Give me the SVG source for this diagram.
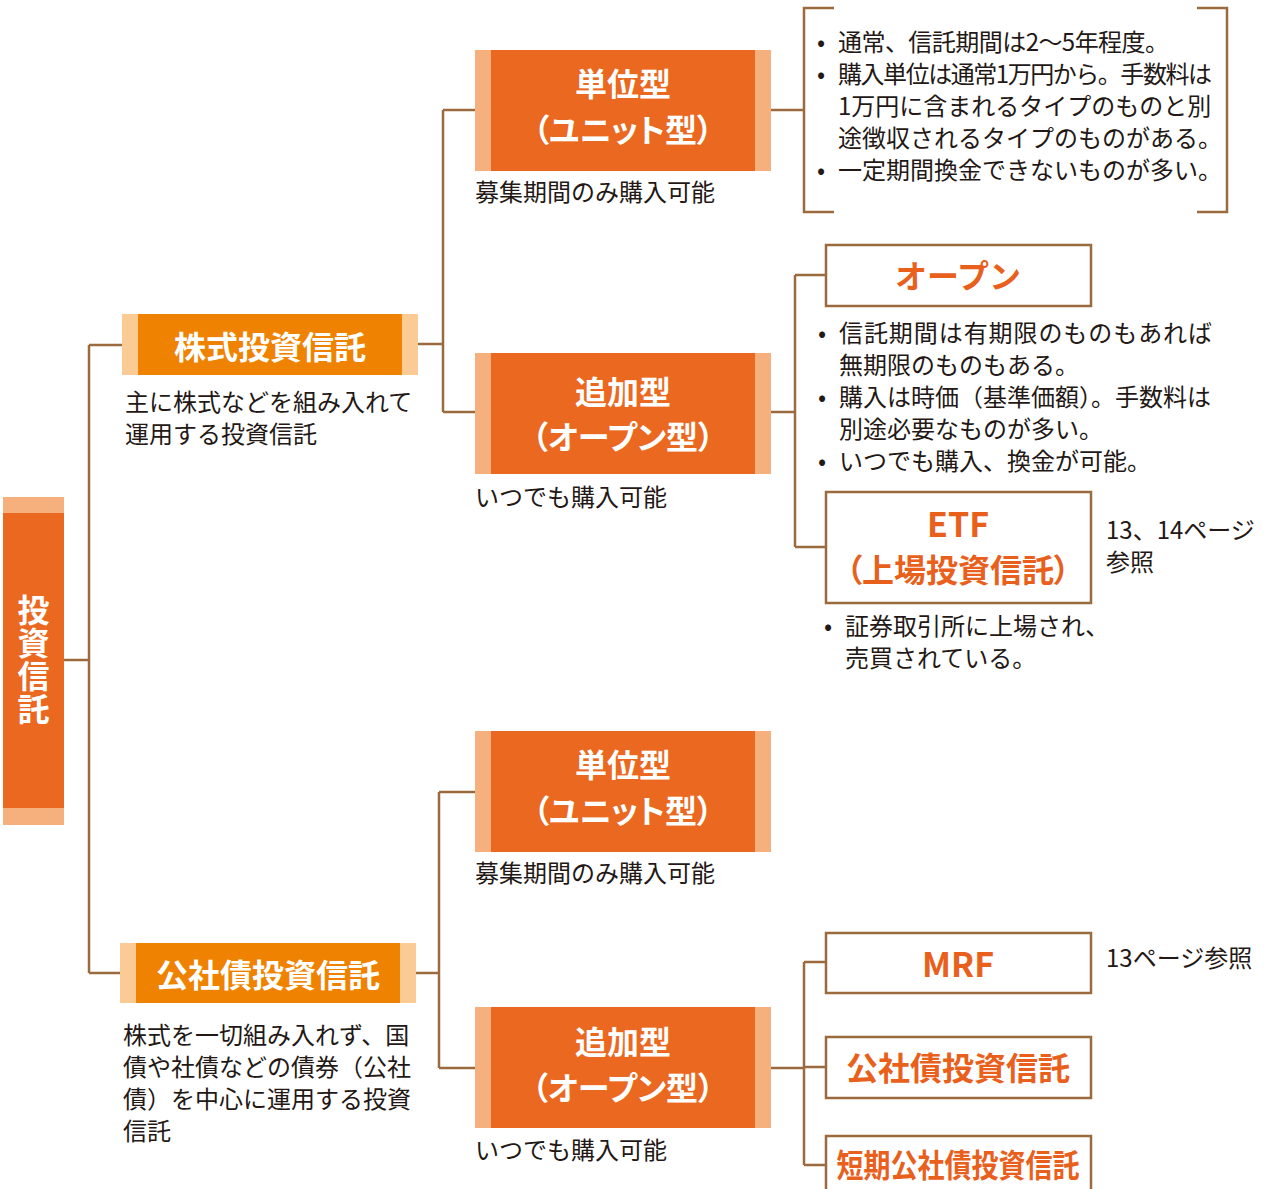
<svg xmlns="http://www.w3.org/2000/svg" width="1266" height="1189" viewBox="0 0 1266 1189">
<style>
.conn{stroke:#9B6B3F;stroke-width:2.5;fill:none}
.t{font-family:"Noto Sans CJK JP","Noto Sans",sans-serif;font-size:24px;fill:#231815}
.hw{font-family:"Noto Sans CJK JP","Noto Sans",sans-serif;font-size:32px;font-weight:bold;fill:#ffffff;text-anchor:middle}
.ho{font-family:"Noto Sans CJK JP","Noto Sans",sans-serif;font-size:32px;font-weight:bold;fill:#E8601C;text-anchor:middle}
.pal{font-feature-settings:"palt"}
.rb{fill:#F5B07D}
.rm{fill:#EA6820}
.yb{fill:#FACB94}
.ym{fill:#EF8200}
.wb{fill:#ffffff;stroke:#9B6B3F;stroke-width:2.5}
</style>
<rect width="1266" height="1189" fill="#ffffff"/>
<g id="connectors">
<path class="conn" d="M64,660 H89 M89,345 V973 M89,345 H122 M89,973 H120"/>
<path class="conn" d="M418,344 H443 M443,110 V412 M443,110 H475 M443,412 H475"/>
<path class="conn" d="M771,110 H804"/>
<path class="conn" d="M834,8 H804 V212 H834 M1197,8 H1227 V212 H1197"/>
<path class="conn" d="M771,412 H795 M795,275 V547 M795,275 H826 M795,547 H826"/>
<path class="conn" d="M416,973 H439 M439,792 V1068 M439,792 H475 M439,1068 H475"/>
<path class="conn" d="M771,1068 H804 M804,962 V1165 M804,962 H826 M804,1067 H826 M804,1165 H826"/>
</g>
<g id="root">
<rect class="rb" x="3" y="497" width="61" height="328"/>
<rect class="rm" x="3" y="513" width="61" height="295"/>
<text class="hw" x="33.5" y="660" writing-mode="vertical-rl" style="writing-mode:vertical-rl;letter-spacing:1px">投資信託</text>
</g>
<g id="kabushiki">
<rect class="yb" x="122" y="314" width="296" height="61"/>
<rect class="ym" x="138" y="314" width="264" height="61"/>
<text class="hw" x="270" y="359">株式投資信託</text>
<text class="t"><tspan x="125" y="411">主に株式などを組み入れて</tspan><tspan x="125" y="443">運用する投資信託</tspan></text>
</g>
<g id="tan-i-1">
<rect class="rb" x="475" y="50" width="296" height="121"/>
<rect class="rm" x="491" y="50" width="264" height="121"/>
<text class="hw"><tspan x="623" y="96">単位型</tspan><tspan class="pal" x="623" y="142">（ユニット型）</tspan></text>
<text class="t" x="475" y="201">募集期間のみ購入可能</text>
</g>
<g id="tan-i-1-notes">
<text class="t"><tspan x="817" y="51">•</tspan><tspan x="817" y="83">•</tspan><tspan x="817" y="179">•</tspan></text>
<text class="t"><tspan x="838" y="51" textLength="331" lengthAdjust="spacing">通常、信託期間は2～5年程度。</tspan><tspan x="838" y="83" textLength="374" lengthAdjust="spacing">購入単位は通常1万円から。手数料は</tspan><tspan x="838" y="115">1万円に含まれるタイプのものと別</tspan><tspan x="838" y="147">途徴収されるタイプのものがある。</tspan><tspan x="838" y="179">一定期間換金できないものが多い。</tspan></text>
</g>
<g id="tsuika-1">
<rect class="rb" x="475" y="353" width="296" height="121"/>
<rect class="rm" x="491" y="353" width="264" height="121"/>
<text class="hw"><tspan x="623" y="404">追加型</tspan><tspan class="pal" x="623" y="449">（オープン型）</tspan></text>
<text class="t" x="475" y="506">いつでも購入可能</text>
</g>
<g id="open">
<rect class="wb" x="826" y="245" width="265" height="61"/>
<text class="ho" x="958" y="288">オープン</text>
<text class="t"><tspan x="818" y="342">•</tspan><tspan x="818" y="406">•</tspan><tspan x="818" y="470">•</tspan></text>
<text class="t"><tspan x="839" y="342" textLength="373" lengthAdjust="spacing">信託期間は有期限のものもあれば</tspan><tspan x="839" y="374">無期限のものもある。</tspan><tspan x="839" y="406">購入は時価（基準価額）。手数料は</tspan><tspan x="839" y="438">別途必要なものが多い。</tspan><tspan x="839" y="470">いつでも購入、換金が可能。</tspan></text>
</g>
<g id="etf">
<rect class="wb" x="826" y="492" width="265" height="111"/>
<text class="ho"><tspan x="958" y="537" style="font-size:34px">ETF</tspan><tspan class="pal" x="958" y="582">（上場投資信託）</tspan></text>
<text class="t"><tspan x="1106" y="539">13、14ページ</tspan><tspan x="1106" y="571">参照</tspan></text>
<text class="t" x="824" y="635">•</text>
<text class="t"><tspan x="845" y="635">証券取引所に上場され、</tspan><tspan x="845" y="667">売買されている。</tspan></text>
</g>
<g id="koshasai">
<rect class="yb" x="120" y="943" width="296" height="60"/>
<rect class="ym" x="136" y="943" width="264" height="60"/>
<text class="hw" x="268" y="987">公社債投資信託</text>
<text class="t"><tspan x="123" y="1044">株式を一切組み入れず、国</tspan><tspan x="123" y="1076">債や社債などの債券（公社</tspan><tspan x="123" y="1108">債）を中心に運用する投資</tspan><tspan x="123" y="1140">信託</tspan></text>
</g>
<g id="tan-i-2">
<rect class="rb" x="475" y="731" width="296" height="121"/>
<rect class="rm" x="491" y="731" width="264" height="121"/>
<text class="hw"><tspan x="623" y="777">単位型</tspan><tspan class="pal" x="623" y="823">（ユニット型）</tspan></text>
<text class="t" x="475" y="882">募集期間のみ購入可能</text>
</g>
<g id="tsuika-2">
<rect class="rb" x="475" y="1007" width="296" height="121"/>
<rect class="rm" x="491" y="1007" width="264" height="121"/>
<text class="hw"><tspan x="623" y="1054">追加型</tspan><tspan class="pal" x="623" y="1100">（オープン型）</tspan></text>
<text class="t" x="475" y="1159">いつでも購入可能</text>
</g>
<g id="mrf">
<rect class="wb" x="826" y="933" width="265" height="60"/>
<text class="ho" x="958" y="977" style="font-size:34px">MRF</text>
<text class="t" x="1106" y="967">13ページ参照</text>
</g>
<g id="koshasai-fund">
<rect class="wb" x="826" y="1037" width="265" height="61"/>
<text class="ho" x="958" y="1080">公社債投資信託</text>
</g>
<g id="tanki-koshasai">
<rect class="wb" x="826" y="1136" width="265" height="70"/>
<text class="ho" x="958" y="1177" textLength="243" lengthAdjust="spacingAndGlyphs">短期公社債投資信託</text>
</g>
</svg>
